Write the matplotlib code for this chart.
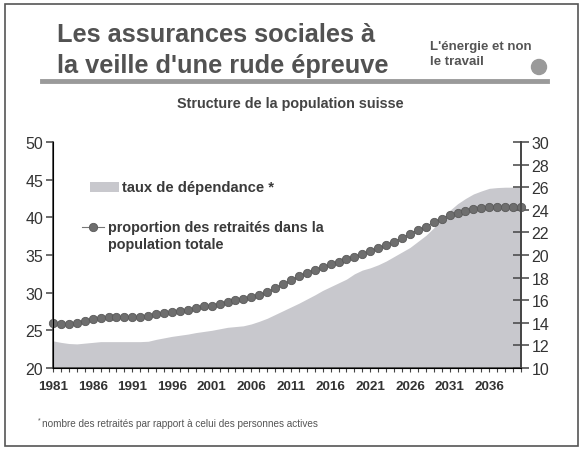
import matplotlib
matplotlib.use("Agg")
import matplotlib.pyplot as plt
from matplotlib.patches import Rectangle, Ellipse
from matplotlib.lines import Line2D

plt.rcParams['font.family'] = ['Liberation Sans', 'DejaVu Sans']

# data
years = list(range(1981, 2041))
dependance = [23.6, 23.4, 23.25, 23.2, 23.3, 23.4, 23.5, 23.5, 23.5, 23.5,
              23.5, 23.5, 23.55, 23.8, 24.0, 24.2, 24.35, 24.5, 24.7, 24.85,
              25.0, 25.2, 25.4, 25.5, 25.6, 25.85, 26.2, 26.6, 27.1, 27.6,
              28.1, 28.6, 29.15, 29.7, 30.3, 30.8, 31.3, 31.8, 32.5, 33.0,
              33.3, 33.7, 34.2, 34.8, 35.4, 36.0, 36.8, 37.6, 38.6, 39.8,
              40.9, 41.8, 42.5, 43.1, 43.5, 43.85, 43.95, 44.0, 44.0, 44.0]
retraites = [13.95, 13.9, 13.88, 13.97, 14.15, 14.32, 14.42, 14.48, 14.52, 14.52,
             14.52, 14.54, 14.62, 14.74, 14.86, 14.95, 15.05, 15.15, 15.28, 15.45,
             15.5, 15.66, 15.88, 16.0, 16.1, 16.26, 16.46, 16.7, 17.05, 17.41,
             17.75, 18.1, 18.45, 18.7, 18.93, 19.17, 19.41, 19.65, 19.85, 20.09,
             20.38, 20.59, 20.88, 21.18, 21.5, 21.86, 22.21, 22.5, 22.89, 23.22,
             23.5, 23.69, 23.87, 24.05, 24.15, 24.25, 24.27, 24.27, 24.27, 24.22]
year_labels = list(range(1981, 2037, 5))
left_ticks = [20, 25, 30, 35, 40, 45, 50]
right_ticks = list(range(10, 31, 2))

W, H = 583, 452
fig = plt.figure(figsize=(W / 100, H / 100), dpi=100)
fig.patch.set_facecolor('white')


def fx(px):
    return px / W


def fy(py):
    return 1 - py / H


# outer frame
fig.add_artist(Rectangle((fx(5), fy(447)), 573 / W, 442 / H,
                         transform=fig.transFigure, fill=False,
                         edgecolor='#555555', linewidth=1.2))

# header
fig.text(fx(57), fy(42), "Les assurances sociales à", fontsize=18.3,
         fontweight='bold', color='#525252', va='baseline')
fig.text(fx(57), fy(73), "la veille d'une rude épreuve", fontsize=18.3,
         fontweight='bold', color='#525252', va='baseline')
fig.text(fx(430), fy(50), "L'énergie et non", fontsize=9.5,
         fontweight='bold', color='#555555', va='baseline')
fig.text(fx(430), fy(65), "le travail", fontsize=9.5,
         fontweight='bold', color='#555555', va='baseline')
fig.add_artist(Ellipse((fx(539), fy(68)), 15 / W, 15 / H,
                       transform=fig.transFigure, color='#9a9a9a'))
fig.add_artist(Line2D([fx(42), fx(547)], [fy(82), fy(82)],
                      transform=fig.transFigure, color='#9a9a9a', linewidth=3.5))
fig.text(fx(290), fy(104), "Structure de la population suisse",
         fontsize=10.4, fontweight='bold', color='#444444', ha='center', va='center')

ax = fig.add_axes([fx(53), fy(369), 468 / W, 226 / H])
ax.fill_between(years, 20, dependance, color='#c8c8cd', linewidth=0)
ax.set_xlim(1981, 2040)
ax.set_ylim(20, 50)
ax.set_yticks(left_ticks)
ax.set_xticks(year_labels)
ax.set_xticks(years, minor=True)
ax.tick_params(axis='y', direction='out', length=5, width=1.1, colors='#444444',
               labelsize=11.5, labelcolor='#333333', pad=2)
ax.tick_params(axis='x', which='both', direction='out', length=3, width=0.8,
               colors='#444444', labelsize=9.7, labelcolor='#333333', pad=6)
for lab in ax.get_xticklabels():
    lab.set_fontweight('bold')
ax.spines['top'].set_visible(False)
for s in ['left', 'right', 'bottom']:
    ax.spines[s].set_color('#444444')
    ax.spines[s].set_linewidth(1.2)

ax2 = ax.twinx()
ax2.plot(years, retraites, color='#777777', linewidth=0.8, marker='o',
         markersize=6, markerfacecolor='#6e6e6e', markeredgecolor='#5a5a5a',
         markeredgewidth=0.6, clip_on=False)
ax2.set_ylim(10, 30)
ax2.set_yticks(right_ticks)
ax2.tick_params(axis='y', direction='inout', length=11, width=1.1, colors='#444444',
                labelsize=11.5, labelcolor='#333333', pad=2)
ax2.spines['top'].set_visible(False)
ax2.spines['right'].set_color('#444444')
ax2.spines['right'].set_linewidth(1.2)

# legend drawn by hand
fig.add_artist(Rectangle((fx(90), fy(193)), 29 / W, 10 / H,
                         transform=fig.transFigure, color='#c8c8cd', linewidth=0))
fig.text(fx(122), fy(188), "taux de dépendance *", fontsize=10.6,
         fontweight='bold', color='#3a3a3a', va='center')
fig.add_artist(Line2D([fx(82), fx(104)], [fy(228), fy(228)],
                      transform=fig.transFigure, color='#777777', linewidth=0.8))
fig.add_artist(Line2D([fx(93)], [fy(228)], transform=fig.transFigure,
                      marker='o', markersize=6, markerfacecolor='#6e6e6e',
                      markeredgecolor='#5a5a5a', markeredgewidth=0.6, linestyle=''))
fig.text(fx(108), fy(228), "proportion des retraités dans la", fontsize=10.4,
         fontweight='bold', color='#3a3a3a', va='center')
fig.text(fx(108), fy(245), "population totale", fontsize=10.4,
         fontweight='bold', color='#3a3a3a', va='center')

# footnote
fig.text(fx(38), fy(421), "*", fontsize=5, color='#555555', va='center')
fig.text(fx(42), fy(424), "nombre des retraités par rapport à celui des personnes actives",
         fontsize=7.2, color='#555555', va='center')

fig.savefig("out.png", dpi=100)
